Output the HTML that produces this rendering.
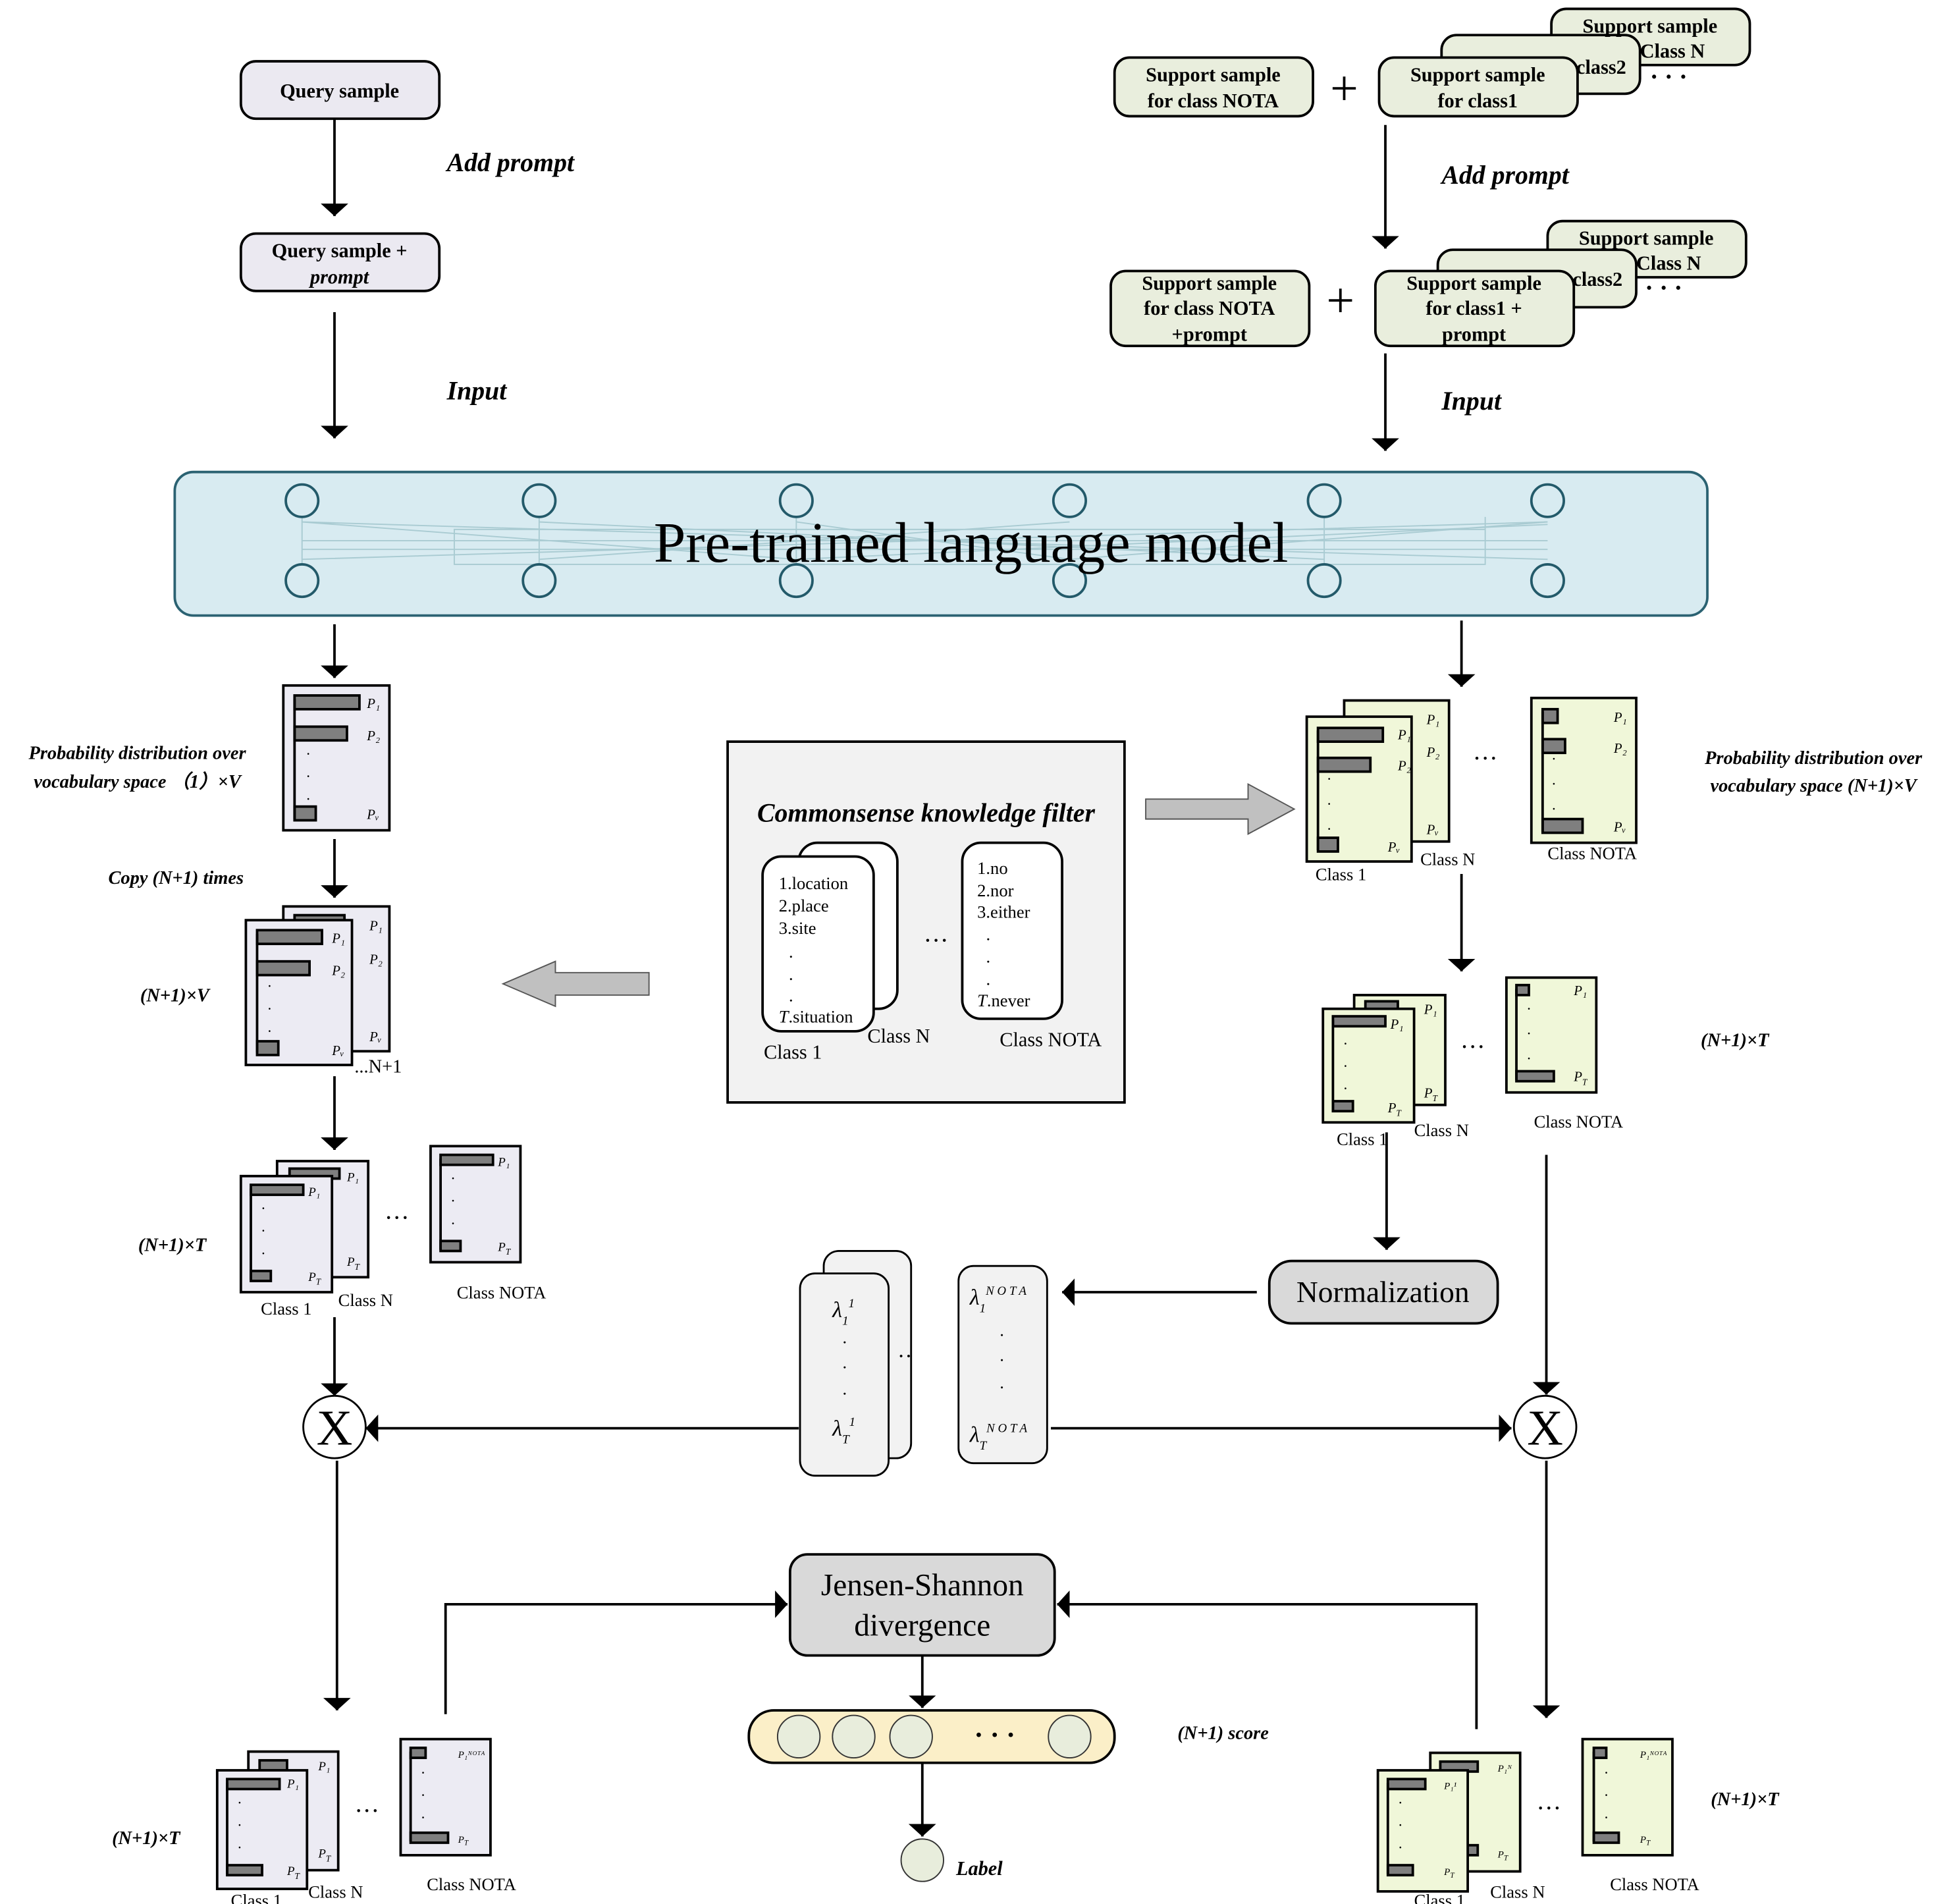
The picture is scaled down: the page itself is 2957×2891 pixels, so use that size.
<!DOCTYPE html>
<html><head><meta charset="utf-8"><style>
html,body{margin:0;padding:0;background:#fff}
svg{display:block}
text{font-family:"Liberation Serif",serif}
.bi{font-style:italic;font-weight:bold}
.b{font-weight:bold}
</style></head><body>
<svg width="2957" height="2891" viewBox="0 0 1560 1525" xmlns="http://www.w3.org/2000/svg">
<defs>
<marker id="ah" viewBox="0 0 10 10" refX="10" refY="5" markerWidth="10" markerHeight="22" orient="auto" markerUnits="userSpaceOnUse" preserveAspectRatio="none">
<path d="M0,0 L10,5 L0,10 z" fill="#000"/></marker>
</defs>
<g stroke="#000" stroke-width="2" fill="none" marker-end="url(#ah)">
<path d="M268,95 V173"/><path d="M268,250 V351"/>
<path d="M1110,100 V199"/><path d="M1110,283 V361"/>
<path d="M268,500 V543"/><path d="M268,672 V719"/><path d="M268,862 V921"/>
<path d="M268,1055 V1118"/><path d="M640,1144 H293"/><path d="M270,1170 V1370"/>
<path d="M357,1373 V1285 H631"/><path d="M739,1326 V1368"/><path d="M739,1412 V1471"/>
<path d="M1183,1385 V1285 H847"/>
<path d="M1171,497 V550"/><path d="M1171,700 V778"/><path d="M1111,907 V1001"/>
<path d="M1007,1035 H851"/><path d="M842,1144 H1211"/><path d="M1239,925 V1117"/><path d="M1239,1170 V1376"/>
</g>
<g stroke="#000" stroke-width="2" fill="#ebe9f1">
<rect x="193" y="49" width="159" height="46" rx="12"/>
<rect x="193" y="187" width="159" height="46" rx="12"/>
</g>
<text x="272" y="78" font-size="16" class="b" text-anchor="middle">Query sample</text>
<text x="272" y="206" font-size="16" class="b" text-anchor="middle">Query sample +</text>
<text x="272" y="227" font-size="16" class="bi" text-anchor="middle">prompt</text>
<text x="358" y="137" font-size="21" class="bi">Add prompt</text>
<text x="358" y="320" font-size="21" class="bi">Input</text>
<text x="1155" y="147" font-size="21" class="bi">Add prompt</text>
<text x="1155" y="328" font-size="21" class="bi">Input</text>
<g stroke="#000" stroke-width="2" fill="#e9eedd">
<rect x="893" y="46" width="159" height="47" rx="12"/>
<rect x="1243" y="7" width="159" height="45" rx="12"/>
<rect x="1155" y="28" width="159" height="47" rx="12"/>
<rect x="1105" y="46" width="159" height="47" rx="12"/>
<rect x="890" y="217" width="159" height="60" rx="12"/>
<rect x="1240" y="177" width="159" height="45" rx="12"/>
<rect x="1152" y="200" width="159" height="46" rx="12"/>
<rect x="1102" y="217" width="159" height="60" rx="12"/>
</g>
<g font-size="16" class="b" text-anchor="middle">
<text x="972" y="65">Support sample</text><text x="972" y="86">for class NOTA</text>
<text x="1322" y="26">Support sample</text><text x="1340" y="46">Class N</text>
<text x="1283" y="59">class2</text>
<text x="1184" y="65">Support sample</text><text x="1184" y="86">for class1</text>
<text x="969" y="232">Support sample</text><text x="969" y="252">for class NOTA</text><text x="969" y="273">+prompt</text>
<text x="1319" y="196">Support sample</text><text x="1337" y="216">Class N</text>
<text x="1280" y="229">class2</text>
<text x="1181" y="232">Support sample</text><text x="1181" y="252">for class1 +</text><text x="1181" y="273">prompt</text>
</g>
<text x="1077" y="84" font-size="40" text-anchor="middle">+</text>
<text x="1074" y="254" font-size="40" text-anchor="middle">+</text>
<text x="1322" y="68" font-size="20" class="b">· · ·</text>
<text x="1318" y="237" font-size="20" class="b">· · ·</text>
<rect x="140" y="378" width="1228" height="115" rx="15" fill="#d8ebf1" stroke="#2b6272" stroke-width="2"/>
<g stroke="#a9cbd2" stroke-width="1" fill="none">
<path d="M242,418 L1240,448 M242,448 L1240,418 M432,418 L1061,448 M638,418 L857,448 M242,418 L638,448 M432,448 L857,418 M638,448 L1240,420 M857,448 L1240,418 M242,433 H1240 M242,440 H1240 M364,424 H1190 V452 H364 z M242,414 V452 M432,414 V452 M638,414 V452 M1061,414 V452 M1190,414 V452"/>
</g>
<g stroke="#235a6a" stroke-width="2" fill="#d8ebf1">
<circle cx="242" cy="401" r="13"/><circle cx="432" cy="401" r="13"/><circle cx="638" cy="401" r="13"/><circle cx="857" cy="401" r="13"/><circle cx="1061" cy="401" r="13"/><circle cx="1240" cy="401" r="13"/>
<circle cx="242" cy="465" r="13"/><circle cx="432" cy="465" r="13"/><circle cx="638" cy="465" r="13"/><circle cx="857" cy="465" r="13"/><circle cx="1061" cy="465" r="13"/><circle cx="1240" cy="465" r="13"/>
</g>
<text x="778" y="450" font-size="46" text-anchor="middle">Pre-trained language model</text>
<g stroke="#000" stroke-width="2">
<rect x="227" y="549" width="85" height="116" fill="#ecebf3"/>
<rect x="236" y="557" width="52" height="11" fill="#7f7f7f"/><rect x="236" y="582" width="42" height="11" fill="#7f7f7f"/><rect x="236" y="646" width="17" height="11" fill="#7f7f7f"/>
<path d="M236,560 V656"/>
<rect x="227" y="726" width="85" height="116" fill="#ecebf3"/>
<rect x="236" y="733" width="40" height="11" fill="#7f7f7f"/>
<rect x="197" y="737" width="85" height="116" fill="#ecebf3"/>
<rect x="206" y="745" width="52" height="11" fill="#7f7f7f"/><rect x="206" y="770" width="42" height="11" fill="#7f7f7f"/><rect x="206" y="834" width="17" height="11" fill="#7f7f7f"/>
<path d="M206,748 V843"/>
</g>
<g font-size="11" font-style="italic">
<text x="294" y="567">P₁</text><text x="294" y="593">P₂</text><text x="294" y="656">Pᵥ</text>
<text x="296" y="745">P₁</text><text x="296" y="772">P₂</text><text x="296" y="834">Pᵥ</text>
<text x="266" y="755">P₁</text><text x="266" y="781">P₂</text><text x="266" y="845">Pᵥ</text>
</g>
<g font-size="12"><text x="245" y="608">·</text><text x="245" y="626">·</text><text x="245" y="644">·</text>
<text x="214" y="794">·</text><text x="214" y="812">·</text><text x="214" y="830">·</text></g>
<text x="284" y="859" font-size="15">...N+1</text>
<text x="110" y="608" font-size="15" class="bi" text-anchor="middle">Probability distribution over</text>
<text x="110" y="631" font-size="15" class="bi" text-anchor="middle">vocabulary space （1）×V</text>
<text x="141" y="708" font-size="15" class="bi" text-anchor="middle">Copy (N+1) times</text>
<text x="140" y="802" font-size="15" class="bi" text-anchor="middle">(N+1)×V</text>
<g stroke="#000" stroke-width="2">
<rect x="222" y="930" width="73" height="93" fill="#ecebf3"/><rect x="232" y="936" width="40" height="8" fill="#7f7f7f"/>
<rect x="193" y="942" width="73" height="93" fill="#ecebf3"/>
<rect x="201" y="949" width="42" height="8" fill="#7f7f7f"/><rect x="201" y="1018" width="16" height="8" fill="#7f7f7f"/><path d="M201,952 V1025"/>
<rect x="345" y="918" width="72" height="93" fill="#ecebf3"/>
<rect x="353" y="925" width="42" height="8" fill="#7f7f7f"/><rect x="353" y="994" width="16" height="8" fill="#7f7f7f"/><path d="M353,928 V1001"/>
<rect x="199" y="1403" width="72" height="95" fill="#ecebf3"/><rect x="208" y="1410" width="22" height="8" fill="#7f7f7f"/>
<rect x="174" y="1418" width="72" height="95" fill="#ecebf3"/>
<rect x="182" y="1425" width="42" height="8" fill="#7f7f7f"/><rect x="182" y="1494" width="28" height="8" fill="#7f7f7f"/><path d="M182,1428 V1501"/>
<rect x="321" y="1393" width="72" height="93" fill="#ecebf3"/>
<rect x="329" y="1400" width="12" height="8" fill="#7f7f7f"/><rect x="329" y="1468" width="30" height="8" fill="#7f7f7f"/><path d="M329,1403 V1475"/>
</g>
<g font-size="10" font-style="italic">
<text x="278" y="946">P₁</text><text x="278" y="1014">P<tspan font-size="7" dy="3">T</tspan></text>
<text x="247" y="958">P₁</text><text x="247" y="1026">P<tspan font-size="7" dy="3">T</tspan></text>
<text x="399" y="934">P₁</text><text x="399" y="1002">P<tspan font-size="7" dy="3">T</tspan></text>
<text x="255" y="1418">P₁</text><text x="255" y="1488">P<tspan font-size="7" dy="3">T</tspan></text>
<text x="230" y="1432">P₁</text><text x="230" y="1502">P<tspan font-size="7" dy="3">T</tspan></text>
<text x="367" y="1408" font-size="8">P₁ᴺᴼᵀᴬ</text><text x="367" y="1476" font-size="8">P<tspan font-size="6" dy="2">T</tspan></text>
</g>
<g font-size="12"><text x="209" y="972">·</text><text x="209" y="990">·</text><text x="209" y="1008">·</text>
<text x="361" y="948">·</text><text x="361" y="966">·</text><text x="361" y="984">·</text>
<text x="190" y="1448">·</text><text x="190" y="1466">·</text><text x="190" y="1484">·</text>
<text x="337" y="1424">·</text><text x="337" y="1442">·</text><text x="337" y="1460">·</text></g>
<g font-size="14"><text x="209" y="1053">Class 1</text><text x="271" y="1046">Class N</text><text x="366" y="1040">Class NOTA</text>
<text x="185" y="1527">Class 1</text><text x="247" y="1520">Class N</text><text x="342" y="1514">Class NOTA</text></g>
<text x="308" y="982" font-size="20">···</text>
<text x="284" y="1457" font-size="20">···</text>
<text x="138" y="1002" font-size="15" class="bi" text-anchor="middle">(N+1)×T</text>
<text x="117" y="1477" font-size="15" class="bi" text-anchor="middle">(N+1)×T</text>
<g stroke="#000" stroke-width="1.5" fill="#fff"><circle cx="268" cy="1143" r="25"/><circle cx="1238" cy="1143" r="25"/></g>
<text x="268" y="1157" font-size="40" text-anchor="middle">X</text>
<text x="1238" y="1157" font-size="40" text-anchor="middle">X</text>
<rect x="583" y="594" width="318" height="289" fill="#f2f2f2" stroke="#000" stroke-width="2"/>
<text x="742" y="658" font-size="21" class="bi" text-anchor="middle">Commonsense knowledge filter</text>
<g stroke="#000" stroke-width="2" fill="#fff">
<rect x="640" y="675" width="79" height="133" rx="15"/><rect x="611" y="686" width="89" height="140" rx="15"/>
<rect x="771" y="675" width="80" height="141" rx="15"/>
</g>
<g font-size="14"><text x="624" y="712">1.location</text><text x="624" y="730">2.place</text><text x="624" y="748">3.site</text>
<text x="632" y="767">.</text><text x="632" y="785">.</text><text x="632" y="802">.</text><text x="624" y="819"><tspan font-style="italic">T</tspan>.situation</text>
<text x="783" y="700">1.no</text><text x="783" y="718">2.nor</text><text x="783" y="735">3.either</text>
<text x="790" y="753">.</text><text x="790" y="771">.</text><text x="790" y="789">.</text><text x="783" y="806"><tspan font-style="italic">T</tspan>.never</text></g>
<g font-size="16"><text x="612" y="848">Class 1</text><text x="695" y="835">Class N</text><text x="801" y="838">Class NOTA</text></g>
<text x="740" y="760" font-size="20">···</text>
<g fill="#c0c0c0" stroke="#555" stroke-width="1">
<path d="M520,779 H445 V770 L403,788 L445,806 V797 H520 z"/>
<path d="M918,640 H1000 V628 L1037,648 L1000,668 V656 H918 z"/>
</g>
<g stroke="#000" stroke-width="2">
<rect x="1077" y="561" width="84" height="113" fill="#f0f7d9"/><rect x="1083" y="583" width="25" height="10" fill="#7f7f7f"/>
<rect x="1047" y="574" width="84" height="116" fill="#f0f7d9"/>
<rect x="1056" y="583" width="52" height="11" fill="#7f7f7f"/><rect x="1056" y="607" width="42" height="11" fill="#7f7f7f"/><rect x="1056" y="671" width="16" height="11" fill="#7f7f7f"/><path d="M1056,585 V681"/>
<rect x="1227" y="559" width="84" height="116" fill="#f0f7d9"/>
<rect x="1236" y="568" width="12" height="11" fill="#7f7f7f"/><rect x="1236" y="592" width="18" height="11" fill="#7f7f7f"/><rect x="1236" y="656" width="32" height="11" fill="#7f7f7f"/><path d="M1236,570 V666"/>
<rect x="1085" y="797" width="73" height="88" fill="#f0f7d9"/><rect x="1094" y="802" width="26" height="8" fill="#7f7f7f"/>
<rect x="1060" y="808" width="73" height="91" fill="#f0f7d9"/>
<rect x="1068" y="814" width="42" height="8" fill="#7f7f7f"/><rect x="1068" y="882" width="16" height="8" fill="#7f7f7f"/><path d="M1068,817 V889"/>
<rect x="1207" y="783" width="72" height="92" fill="#f0f7d9"/>
<rect x="1215" y="789" width="10" height="8" fill="#7f7f7f"/><rect x="1215" y="858" width="30" height="8" fill="#7f7f7f"/><path d="M1215,792 V865"/>
<rect x="1146" y="1404" width="72" height="95" fill="#f0f7d9"/><rect x="1154" y="1411" width="30" height="8" fill="#7f7f7f"/><rect x="1154" y="1478" width="30" height="8" fill="#7f7f7f"/>
<rect x="1104" y="1418" width="72" height="97" fill="#f0f7d9"/>
<rect x="1112" y="1425" width="30" height="8" fill="#7f7f7f"/><rect x="1112" y="1494" width="20" height="8" fill="#7f7f7f"/><path d="M1112,1428 V1501"/>
<rect x="1268" y="1393" width="72" height="93" fill="#f0f7d9"/>
<rect x="1277" y="1400" width="10" height="8" fill="#7f7f7f"/><rect x="1277" y="1468" width="20" height="8" fill="#7f7f7f"/><path d="M1277,1403 V1475"/>
</g>
<g font-size="11" font-style="italic">
<text x="1143" y="580">P₁</text><text x="1143" y="606">P₂</text><text x="1143" y="668">Pᵥ</text>
<text x="1120" y="592">P₁</text><text x="1120" y="617">P₂</text><text x="1112" y="682">Pᵥ</text>
<text x="1293" y="578">P₁</text><text x="1293" y="603">P₂</text><text x="1293" y="666">Pᵥ</text>
<text x="1141" y="812">P₁</text><text x="1141" y="879">P<tspan font-size="7" dy="3">T</tspan></text>
<text x="1114" y="824">P₁</text><text x="1112" y="891">P<tspan font-size="7" dy="3">T</tspan></text>
<text x="1261" y="797">P₁</text><text x="1261" y="866">P<tspan font-size="7" dy="3">T</tspan></text>
<text x="1200" y="1419" font-size="8">P₁ᴺ</text><text x="1200" y="1488" font-size="8">P<tspan font-size="6" dy="2">T</tspan></text>
<text x="1157" y="1433" font-size="8">P₁¹</text><text x="1157" y="1502" font-size="8">P<tspan font-size="6" dy="2">T</tspan></text>
<text x="1314" y="1408" font-size="8">P₁ᴺᴼᵀᴬ</text><text x="1314" y="1476" font-size="8">P<tspan font-size="6" dy="2">T</tspan></text>
</g>
<g font-size="12"><text x="1063" y="628">·</text><text x="1063" y="648">·</text><text x="1063" y="668">·</text>
<text x="1243" y="612">·</text><text x="1243" y="632">·</text><text x="1243" y="652">·</text>
<text x="1076" y="840">·</text><text x="1076" y="858">·</text><text x="1076" y="876">·</text>
<text x="1223" y="812">·</text><text x="1223" y="832">·</text><text x="1223" y="852">·</text>
<text x="1120" y="1448">·</text><text x="1120" y="1466">·</text><text x="1120" y="1484">·</text>
<text x="1285" y="1424">·</text><text x="1285" y="1442">·</text><text x="1285" y="1460">·</text></g>
<g font-size="14"><text x="1054" y="705">Class 1</text><text x="1138" y="693">Class N</text><text x="1240" y="688">Class NOTA</text>
<text x="1071" y="917">Class 1</text><text x="1133" y="910">Class N</text><text x="1229" y="903">Class NOTA</text>
<text x="1133" y="1527">Class 1</text><text x="1194" y="1520">Class N</text><text x="1290" y="1514">Class NOTA</text></g>
<text x="1180" y="614" font-size="20">···</text>
<text x="1170" y="845" font-size="20">···</text>
<text x="1231" y="1455" font-size="20">···</text>
<text x="1453" y="612" font-size="15" class="bi" text-anchor="middle">Probability distribution over</text>
<text x="1453" y="634" font-size="15" class="bi" text-anchor="middle">vocabulary space  (N+1)×V</text>
<text x="1390" y="838" font-size="15" class="bi" text-anchor="middle">(N+1)×T</text>
<text x="1398" y="1446" font-size="15" class="bi" text-anchor="middle">(N+1)×T</text>
<rect x="1017" y="1010" width="183" height="50" rx="18" fill="#d9d9d9" stroke="#000" stroke-width="2"/>
<text x="1108" y="1043" font-size="24" text-anchor="middle">Normalization</text>
<g stroke="#000" stroke-width="1.5" fill="#f2f2f2">
<rect x="660" y="1002" width="70" height="166" rx="12"/><rect x="641" y="1020" width="71" height="162" rx="12"/>
<rect x="768" y="1014" width="71" height="158" rx="12"/>
</g>
<g font-size="18" font-style="italic">
<text x="667" y="1055">λ<tspan font-size="10" dy="6">1</tspan><tspan font-size="10" dy="-14">1</tspan></text>
<text x="667" y="1150">λ<tspan font-size="10" dy="6">T</tspan><tspan font-size="10" dy="-14">1</tspan></text>
<text x="777" y="1045">λ<tspan font-size="10" dy="6">1</tspan><tspan font-size="10" dy="-14">N O T A</tspan></text>
<text x="777" y="1155">λ<tspan font-size="10" dy="6">T</tspan><tspan font-size="10" dy="-14">N O T A</tspan></text>
</g>
<g font-size="14"><text x="675" y="1076">.</text><text x="675" y="1096">.</text><text x="675" y="1117">.</text>
<text x="801" y="1070">.</text><text x="801" y="1090">.</text><text x="801" y="1112">.</text></g>
<text x="719" y="1092" font-size="18">··</text>
<rect x="633" y="1245" width="212" height="81" rx="14" fill="#d9d9d9" stroke="#000" stroke-width="2"/>
<text x="739" y="1278" font-size="25" text-anchor="middle">Jensen-Shannon</text>
<text x="739" y="1310" font-size="25" text-anchor="middle">divergence</text>
<rect x="600" y="1370" width="293" height="42" rx="20" fill="#fbefc8" stroke="#000" stroke-width="2"/>
<g stroke="#333" stroke-width="1" fill="#e8eddc">
<circle cx="640" cy="1391" r="17"/><circle cx="684" cy="1391" r="17"/><circle cx="730" cy="1391" r="17"/><circle cx="857" cy="1391" r="17"/>
<circle cx="739" cy="1490" r="17"/></g>
<text x="797" y="1397" font-size="22" text-anchor="middle" class="b">· · ·</text>
<text x="980" y="1393" font-size="15" class="bi" text-anchor="middle">(N+1) score</text>
<text x="766" y="1502" font-size="16" class="bi">Label</text>
</svg>
</body></html>
